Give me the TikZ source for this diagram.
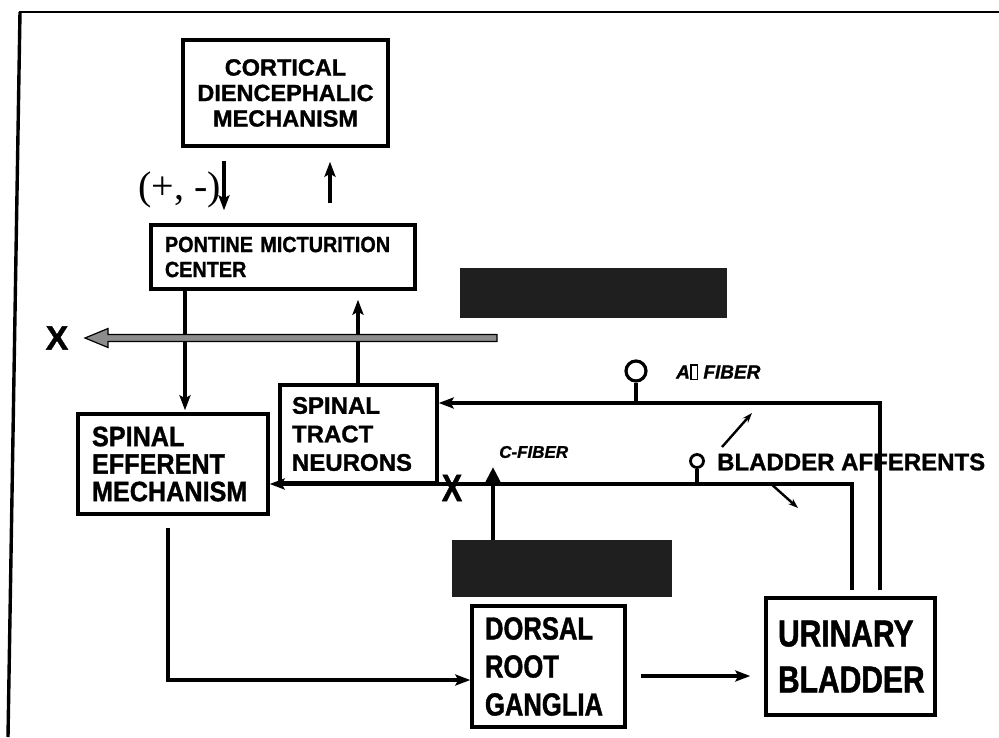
\documentclass[tikz,border=0pt]{standalone}
\usepackage{fontspec}
\setmainfont{Liberation Sans}[BoldFeatures={FakeBold=1.2},BoldItalicFeatures={FakeBold=1.2}]
\newfontfamily\cond{Liberation Sans}[FakeStretch=0.8,BoldFeatures={FakeBold=1.2}]
\newfontfamily\condb{Liberation Sans}[FakeStretch=0.9,BoldFeatures={FakeBold=1.2}]
\newfontfamily\serifb{Liberation Serif}
\usetikzlibrary{arrows.meta,calc}
\begin{document}
\begin{tikzpicture}[x=1pt,y=-1pt,
 box/.style={draw, line width=3.4pt, inner ysep=0pt},
 arr/.style={line width=3.2pt, -{Stealth[length=15pt,width=11pt,inset=3pt]}},
 ln/.style={line width=3.2pt},
 blk/.style={fill=black!88, draw=none, inner sep=0},
 lbl/.style={inner sep=0},
 knob/.style={circle, draw, line width=3.2pt, inner sep=0}]
\useasboundingbox (0,0) rectangle (999,737);
% frame
\draw[line width=1.6pt] (19,12) -- (999,12);
\draw[line width=3.4pt] (20,12) -- (8,737);
% boxes
\node[box, align=center, text width=185pt, inner xsep=10pt, minimum height=106pt,
  font=\bfseries\fontsize{23.5}{25.5}\selectfont] (cort) at (285.5,93) {CORTICAL\\DIENCEPHALIC\\MECHANISM};
\node[box, align=left, text width=236pt, inner xsep=14pt, minimum height=64pt,
  font=\condb\bfseries\fontsize{22}{25}\selectfont] (pmc) at (283,257) {PONTINE MICTURITION\\CENTER};
\node[box, align=left, text width=162pt, inner xsep=14pt, minimum height=100pt,
  font=\condb\bfseries\fontsize{28}{27.5}\selectfont] (ste) at (173,464) {SPINAL\\EFFERENT\\MECHANISM};
\node[box, align=left, text width=133pt, inner xsep=12pt, minimum height=98pt,
  font=\bfseries\fontsize{24}{28.5}\selectfont] (stn) at (358.5,434) {SPINAL\\TRACT\\NEURONS};
\node[box, align=left, text width=127pt, inner xsep=13pt, minimum height=121pt,
  font=\cond\bfseries\fontsize{32}{38}\selectfont] (drg) at (548.5,666.5) {DORSAL\\ROOT\\GANGLIA};
\node[box, align=left, text width=145pt, inner xsep=12pt, minimum height=117pt,
  font=\cond\bfseries\fontsize{37.5}{46}\selectfont] (ub) at (850.5,656.5) {URINARY\\BLADDER};
% black bars
\node[blk, minimum width=267pt, minimum height=50pt] (blk1) at (593.5,293) {};
\node[blk, minimum width=220pt, minimum height=57pt] (blk2) at (562,568.5) {};
% labels
\node[lbl, anchor=east, font=\serifb\fontsize{40}{40}\selectfont] (pm) at (221,190) {(+, -)};
\node[lbl, font=\bfseries\fontsize{34}{34}\selectfont] (x1) at (57,338) {X};
\node[lbl, font=\cond\bfseries\fontsize{38}{38}\selectfont] (x2) at (452,488) {X};
\node[lbl, anchor=west, font=\bfseries\itshape\fontsize{19}{19}\selectfont] (af) at (676,372)
  {A{\setlength\fboxsep{0pt}\setlength\fboxrule{1.6pt}\fbox{\rule{0pt}{13pt}\hspace{5pt}}} FIBER};
\node[lbl, anchor=west, font=\bfseries\itshape\fontsize{17}{17}\selectfont] (cf) at (499,452) {C-FIBER};
\node[lbl, anchor=west, font=\bfseries\fontsize{24}{24}\selectfont] (ba) at (717,462) {BLADDER AFFERENTS};
% coordinates
\coordinate (xa) at (224,0);
\coordinate (xb) at (330,0);
\coordinate (xc) at (185,0);
\coordinate (xd) at (358,0);
\coordinate (xe) at (880,0);
\coordinate (xf) at (852,0);
\coordinate (xg) at (168,0);
\coordinate (ya) at (0,403);
\coordinate (yb) at (0,484);
\coordinate (yc) at (0,680);
\coordinate (yd) at (0,676);
\coordinate (ct) at (493,467);
\coordinate (gstart) at (497,338);
\coordinate (gend) at (85,338);
\coordinate (ua1) at (722,447);
\coordinate (ua2) at (752,413);
\coordinate (da1) at (770,483);
\coordinate (da2) at (798,508);
% connectors
\draw[arr, shorten <=13pt, shorten >=13pt] (cort.south -| xa) -- (pmc.north -| xa);
\draw[arr, shorten <=20pt, shorten >=14pt] (pmc.north -| xb) -- (cort.south -| xb);
\draw[arr, shorten >=2pt] (pmc.south -| xc) -- (ste.north -| xc);
\draw[arr, shorten >=9pt] (stn.north -| xd) -- (pmc.south -| xd);
\draw[arr, shorten <=6pt] (ub.north -| xe) |- (stn.east |- ya);
\draw[arr, shorten <=6pt] (ub.north -| xf) |- (ste.east |- yb);
\draw[arr, shorten <=12pt] (ste.south -| xg) |- (drg.west |- yc);
\draw[arr, shorten <=14pt, shorten >=14pt] (drg.east |- yd) -- (ub.west |- yd);
\draw[line width=4.5pt, -{Triangle[length=16pt,width=15pt]}] (blk2.north -| ct) -- (ct);
% gray arrow
\draw[line width=1.2pt, fill=black!45]
  ($(gstart)+(0,-3.5)$) -- ($(gend)+(23,-3.5)$) -- ($(gend)+(23,-9.5)$) -- (gend)
  -- ($(gend)+(23,9.5)$) -- ($(gend)+(23,3.5)$) -- ($(gstart)+(0,3.5)$) -- cycle;
% knobs
\node[knob, minimum size=20pt] (k1) at (636,371) {};
\draw[ln] (k1.south) -- (k1.south |- ya);
\node[knob, minimum size=13pt, line width=2.8pt] (k2) at (697,461) {};
\draw[ln] (k2.south) -- (k2.south |- yb);
% small arrows
\draw[line width=2.4pt, -{Stealth[length=10pt,width=7pt]}] (ua1) -- (ua2);
\draw[line width=2.4pt, -{Stealth[length=10pt,width=7pt]}] (da1) -- (da2);
\end{tikzpicture}
\end{document}
